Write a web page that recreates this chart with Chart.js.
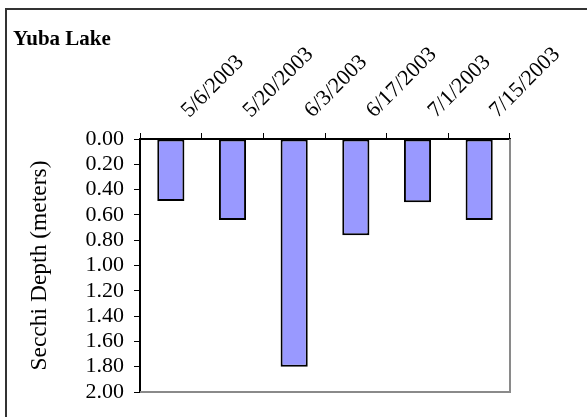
<!DOCTYPE html>
<html>
<head>
<meta charset="utf-8">
<script src="https://cdn.jsdelivr.net/npm/chart.js@4/dist/chart.umd.min.js"></script>
<style>
  html, body { margin: 0; padding: 0; background: #fff; }
  #wrap { width: 587px; height: 417px; position: relative; }
</style>
</head>
<body>
<div id="wrap"><canvas id="c" width="587" height="417"></canvas></div>
<script>
// Secchi depth readings for Yuba Lake, 2003
const sampleDates = ['5/6/2003', '5/20/2003', '6/3/2003', '6/17/2003', '7/1/2003', '7/15/2003'];
const secchiDepth = [0.49, 0.64, 1.80, 0.76, 0.50, 0.64];
const depthTicks = [0.00, 0.20, 0.40, 0.60, 0.80, 1.00, 1.20, 1.40, 1.60, 1.80, 2.00];

const serif = "'Liberation Serif', 'Times New Roman', serif";

// Outer chart frame (top and left edges) plus the grey plot-area edges
const framePlugin = {
  id: 'frames',
  beforeDraw(chart) {
    const ctx = chart.ctx;
    ctx.save();
    ctx.fillStyle = '#ffffff';
    ctx.fillRect(0, 0, chart.width, chart.height);
    ctx.strokeStyle = '#333333';
    ctx.lineWidth = 2;
    ctx.beginPath();
    ctx.moveTo(6, chart.height);
    ctx.lineTo(6, 9);
    ctx.lineTo(chart.width, 9);
    ctx.stroke();
    ctx.restore();
  },
  beforeDatasetsDraw(chart) {
    const { ctx, chartArea: a } = chart;
    ctx.save();
    ctx.strokeStyle = '#8a8a8a';
    ctx.lineWidth = 2;
    ctx.beginPath();
    ctx.moveTo(a.left, a.bottom);
    ctx.lineTo(a.right, a.bottom);
    ctx.lineTo(a.right, a.top);
    ctx.stroke();
    ctx.restore();
  }
};

new Chart(document.getElementById('c'), {
  type: 'bar',
  data: {
    labels: sampleDates,
    datasets: [{
      data: secchiDepth,
      backgroundColor: '#9999ff',
      borderColor: '#000000',
      borderWidth: 2,
      borderSkipped: false,
      barPercentage: 0.44,
      categoryPercentage: 1.0
    }]
  },
  options: {
    responsive: false,
    animation: false,
    devicePixelRatio: 1,
    layout: { padding: { left: 13, right: 77, top: 0, bottom: 25 } },
    plugins: {
      legend: { display: false },
      tooltip: { enabled: false },
      title: {
        display: true,
        text: 'Yuba Lake',
        align: 'start',
        color: '#000',
        font: { family: serif, size: 21, weight: 'bold', lineHeight: 0.4 },
        padding: { top: 35.5, bottom: 0 }
      }
    },
    scales: {
      x: {
        position: 'top',
        offset: true,
        grid: {
          offset: true,
          drawOnChartArea: false,
          drawTicks: true,
          tickLength: 6,
          color: '#000'
        },
        border: { display: true, color: '#000', width: 2 },
        ticks: {
          autoSkip: false,
          minRotation: 45,
          maxRotation: 45,
          padding: 9.5,
          labelOffset: 33,
          color: '#000',
          font: { family: serif, size: 22 }
        },
        afterFit(s) {
          s.height = 139 - 43.9;
          s.paddingLeft = 0;
          s.paddingRight = 0;
        }
      },
      y: {
        reverse: true,
        min: 0,
        max: 2,
        afterBuildTicks(s) {
          s.ticks = depthTicks.map(v => ({ value: v }));
        },
        grid: {
          drawOnChartArea: false,
          drawTicks: true,
          tickLength: 6,
          color: '#000'
        },
        border: { display: true, color: '#000', width: 2 },
        ticks: {
          autoSkip: false,
          padding: 10,
          color: '#000',
          font: { family: serif, size: 22 },
          callback: v => Number(v).toFixed(2)
        },
        title: {
          display: true,
          text: 'Secchi Depth (meters)',
          color: '#000',
          font: { family: serif, size: 23.5 },
          padding: { top: 13, bottom: 0 }
        },
        afterFit(s) {
          s.width = 127;
          s.paddingTop = 0;
          s.paddingBottom = 0;
        }
      }
    }
  },
  plugins: [framePlugin]
});
</script>
</body>
</html>
